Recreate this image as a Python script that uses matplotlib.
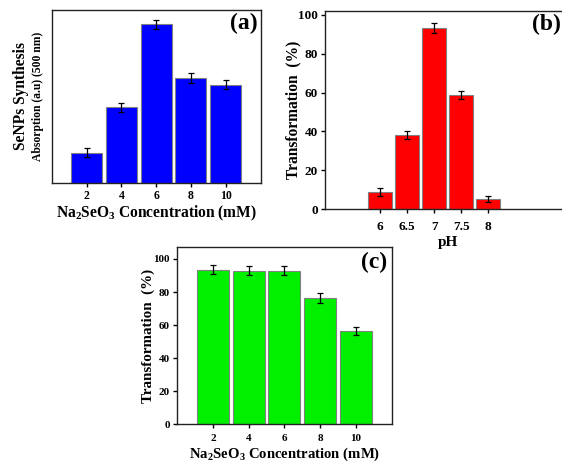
import numpy as np
import matplotlib
matplotlib.use('Agg')
import matplotlib.pyplot as plt

plt.rcParams['font.family'] = ['Liberation Serif', 'DejaVu Serif']
plt.rcParams['font.weight'] = 'bold'
plt.rcParams['mathtext.fontset'] = 'custom'
plt.rcParams['mathtext.rm'] = 'Liberation Serif:bold'
plt.rcParams['mathtext.it'] = 'Liberation Serif:bold'
plt.rcParams['mathtext.bf'] = 'Liberation Serif:bold'

# (a) absorption vs Na2SeO3 concentration
conc_labels = ['2', '4', '6', '8', '10']
absorption = [0.175, 0.437, 0.917, 0.607, 0.568]
absorption_err = [0.027, 0.027, 0.025, 0.027, 0.025]

# (b) transformation vs pH
ph_labels = ['6', '6.5', '7', '7.5', '8']
ph_transform = [8.9, 38.0, 93.3, 58.9, 5.0]
ph_err = [2.0, 2.0, 2.5, 2.0, 1.5]

# (c) transformation vs Na2SeO3 concentration
conc_transform = [93.6, 93.0, 93.0, 76.4, 56.6]
conc_err = [3.0, 3.0, 3.0, 2.8, 2.5]

xlabel_conc = 'Na$_2$SeO$_3$ Concentration (mM)'

fig = plt.figure(figsize=(5.62, 4.63), dpi=100)
W, H = 562.0, 463.0

def axes_px(left, top, right, bottom):
    return fig.add_axes([left / W, 1 - bottom / H, (right - left) / W, (bottom - top) / H])

def draw_bars(ax, vals, errs, color):
    x = np.arange(len(vals))
    ax.bar(x, vals, width=0.9, color=color, edgecolor='#808080', linewidth=0.8, zorder=2)
    ax.errorbar(x, vals, yerr=errs, fmt='none', ecolor='black', elinewidth=0.9,
                capsize=2, capthick=0.9, zorder=3)
    for s in ax.spines.values():
        s.set_linewidth(1.0)
        s.set_color('#222222')
    ax.tick_params(direction='out', length=3, width=1, pad=2)
    return x

# panel a
ax_a = axes_px(52, 10, 261, 183)
x = draw_bars(ax_a, absorption, absorption_err, '#0000ff')
ax_a.set_xlim(-1.0, 5.02)
ax_a.set_ylim(0, 1.0)
ax_a.set_xticks(x)
ax_a.set_xticklabels(conc_labels, fontsize=8.5, fontweight='bold')
ax_a.set_yticks([])
ax_a.set_xlabel(xlabel_conc, fontsize=11.2, fontweight='bold', labelpad=1)
ax_a.text(-0.15, 0.5, 'SeNPs Synthesis', transform=ax_a.transAxes, rotation=90,
          ha='center', va='center', fontsize=11.2, fontweight='bold')
ax_a.text(-0.065, 0.5, 'Absorption (a.u) (500 nm)', transform=ax_a.transAxes, rotation=90,
          ha='center', va='center', fontsize=8.4, fontweight='bold')
ax_a.text(0.985, 0.985, '(a)', transform=ax_a.transAxes, ha='right', va='top',
          fontsize=17, fontweight='bold')

# panel b
ax_b = axes_px(325, 11, 570, 209)
x = draw_bars(ax_b, ph_transform, ph_err, '#ff0000')
ax_b.set_xlim(-2.04, 7.03)
ax_b.set_ylim(0, 102)
ax_b.set_xticks(x)
ax_b.set_xticklabels(ph_labels, fontsize=9.5, fontweight='bold')
ax_b.tick_params(axis='x', pad=6)
ax_b.set_yticks([0, 20, 40, 60, 80, 100])
ax_b.set_yticklabels(['0', '20', '40', '60', '80', '100'], fontsize=9.5, fontweight='bold')
ax_b.spines['right'].set_visible(False)
ax_b.set_xlabel('pH', fontsize=11, fontweight='bold', labelpad=2)
ax_b.set_ylabel('Transformation  (%)', fontsize=11.2, fontweight='bold', labelpad=-2)
ax_b.text(0.963, 0.985, '(b)', transform=ax_b.transAxes, ha='right', va='top',
          fontsize=17, fontweight='bold')

# panel c
ax_c = axes_px(176.7, 246.7, 392.3, 424.3)
x = draw_bars(ax_c, conc_transform, conc_err, '#00f000')
ax_c.set_xlim(-1.02, 5.03)
ax_c.set_ylim(0, 107.4)
ax_c.set_xticks(x)
ax_c.set_xticklabels(conc_labels, fontsize=8, fontweight='bold')
ax_c.tick_params(axis='x', pad=4)
ax_c.set_yticks([0, 20, 40, 60, 80, 100])
ax_c.set_yticklabels(['0', '20', '40', '60', '80', '100'], fontsize=8, fontweight='bold')
ax_c.set_xlabel(xlabel_conc, fontsize=10.6, fontweight='bold', labelpad=2)
ax_c.set_ylabel('Transformation  (%)', fontsize=10.8, fontweight='bold', labelpad=-1)
ax_c.text(0.975, 0.97, '(c)', transform=ax_c.transAxes, ha='right', va='top',
          fontsize=17, fontweight='bold')

fig.savefig('out.png', dpi=100)
